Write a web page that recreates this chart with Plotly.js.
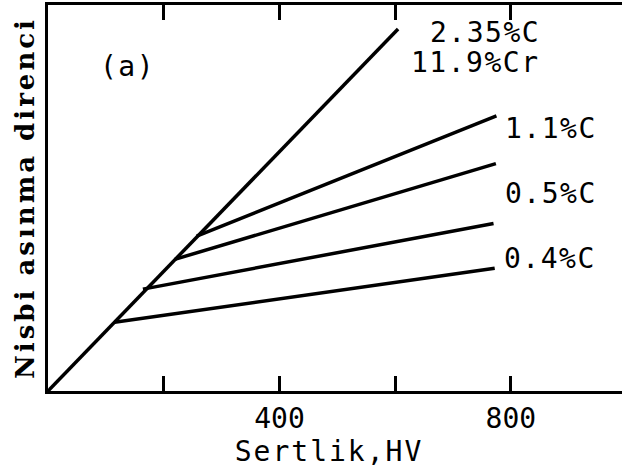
<!DOCTYPE html>
<html>
<head>
<meta charset="utf-8">
<script src="https://cdn.plot.ly/plotly-3.0.1.min.js"></script>
<style>
  html, body { margin: 0; padding: 0; background: #fff; }
  #chart { width: 622px; height: 473px; }
  .ytitle { letter-spacing: 3px; }
  .xtitle { letter-spacing: 2px; transform: translate(-6px, 0px); }
  .annotation-text { letter-spacing: 1.5px; }
</style>
</head>
<body>
<div id="chart"></div>
<script>
// Hardness (HV) vs relative wear resistance (arbitrary units)
const mainX = [0, 605];          // 2.35%C 11.9%Cr line
const mainY = [0, 93.8];

const branchNames = ["1.1%C", "0.5%C (upper)", "0.5%C / 0.4%C", "0.4%C"];
const branchX = [[257, 775], [219, 774], [164, 770], [115, 772]];
const branchY = [[40.1, 71.3], [34.1, 58.9], [26.4, 43.4], [17.8, 31.8]];

const tickVals = [200, 400, 600, 800];
const tickText = ["", "400", "", "800"];

const labelText = ["2.35%C", "11.9%Cr", "1.1%C", "0.5%C", "0.4%C", "(a)"];
const labelX = [755, 739, 870, 870, 867, 137];
const labelY = [92.8, 85.0, 68.0, 51.2, 34.4, 84.0];

const lineStyle = { color: "#000", width: 3.5 };

const traces = [{
  x: mainX, y: mainY, type: "scatter", mode: "lines",
  line: lineStyle, name: "2.35%C 11.9%Cr"
}];
for (let i = 0; i < branchX.length; i++) {
  traces.push({
    x: branchX[i], y: branchY[i], type: "scatter", mode: "lines",
    line: lineStyle, name: branchNames[i]
  });
}

const monoFont = { family: "DejaVu Sans Mono", size: 28, color: "#000" };

const annotations = labelText.map((t, i) => ({
  x: labelX[i], y: labelY[i], xref: "x", yref: "y",
  text: t, showarrow: false, font: monoFont,
  xanchor: "center", yanchor: "middle"
}));

const layout = {
  width: 622, height: 473,
  margin: { l: 48, r: 0, t: 5, b: 82, pad: 0 },
  paper_bgcolor: "#fff", plot_bgcolor: "#fff",
  showlegend: false,
  xaxis: {
    range: [0, 992],
    showgrid: false, zeroline: false,
    showline: true, linecolor: "#000", linewidth: 3,
    mirror: "ticks",
    ticks: "inside", ticklen: 15, tickwidth: 2.5, tickcolor: "#000",
    tickvals: tickVals, ticktext: tickText,
    tickfont: monoFont,
    title: { text: "Sertlik,HV", font: monoFont, standoff: 0 }
  },
  yaxis: {
    range: [0, 100],
    showgrid: false, zeroline: false,
    showline: true, linecolor: "#000", linewidth: 3,
    ticks: "", showticklabels: false,
    title: {
      text: "Nisbi asınma direnci",
      font: { family: "DejaVu Serif", size: 26, color: "#000", weight: "bold" },
      standoff: 3
    }
  },
  annotations: annotations
};

Plotly.newPlot("chart", traces, layout, { displayModeBar: false });
</script>
</body>
</html>
